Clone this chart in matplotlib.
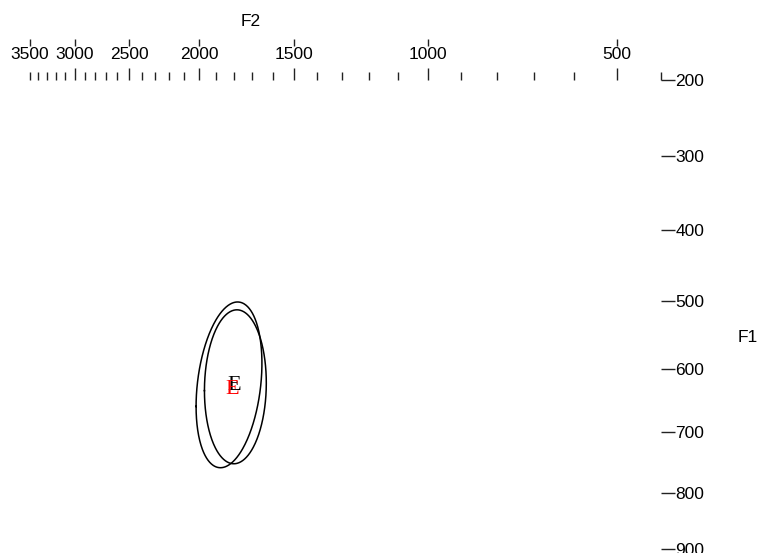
import numpy as np
import matplotlib
matplotlib.use("Agg")
import matplotlib.pyplot as plt

# ---------------- data ----------------
f2_label_ticks = [3500, 3000, 2500, 2000, 1500, 1000, 500]
f2_major_ticks = [3000, 2500, 2000, 1500, 1000, 500]
f2_minor_ticks = [3500, 3400, 3300, 3200, 3100, 2900, 2800, 2700, 2600,
                  2400, 2300, 2200, 2100, 1900, 1800, 1700, 1600,
                  1400, 1300, 1200, 1100, 900, 800, 700, 600, 400]
f1_ticks = [200, 300, 400, 500, 600, 700, 800, 900]
f2_limits = [3500, 400]
f1_limits = [900, 200]

# vowel ellipses (centre in Hz, spread in Bark, correlation)
ell_f2 = [1825, 1790]
ell_f1 = [625, 628]
ell_sd_f2 = [0.33, 0.31]
ell_sd_f1 = [0.52, 0.483]
ell_corr = [0.26, 0.05]

# vowel labels
lab_text = ["E", "E"]
lab_f2 = [1795, 1810]
lab_f1 = [626, 632]
lab_color = ["black", "red"]


# ---------------- Bark scale ----------------
def bark(f):
    f = np.clip(np.asarray(f, dtype=float), 0, None)
    return 13.0 * np.arctan(0.00076 * f) + 3.5 * np.arctan((f / 7500.0) ** 2)

_grid = np.linspace(0, 20000, 200001)
_bgrid = bark(_grid)

def hz(b):
    return np.interp(np.asarray(b, dtype=float), _bgrid, _grid)


W, H = 758, 553
fig = plt.figure(figsize=(W / 100, H / 100), dpi=100)
fig.patch.set_facecolor("white")
plt.rcParams["font.family"] = ["Liberation Sans", "DejaVu Sans"]

left, right, top, bottom = 30, 661, 80, 549
ax = fig.add_axes([left / W, 1 - bottom / H, (right - left) / W, (bottom - top) / H])
ax.set_xscale("function", functions=(bark, hz))
ax.set_yscale("function", functions=(bark, hz))
ax.set_xlim(*f2_limits)
ax.set_ylim(*f1_limits)
for s in ax.spines.values():
    s.set_visible(False)
ax.patch.set_alpha(0)

ax.set_xticks(f2_major_ticks)
ax.set_xticks(f2_minor_ticks, minor=True)
ax.xaxis.set_ticks_position("top")
ax.tick_params(axis="x", which="major", direction="out", length=8.6, width=1.0,
               labeltop=False, labelbottom=False, color="#222222")
ax.tick_params(axis="x", which="minor", direction="out", length=5.8, width=1.0,
               labeltop=False, labelbottom=False, color="#222222")

ax.set_yticks(f1_ticks)
ax.yaxis.set_minor_locator(matplotlib.ticker.NullLocator())
ax.yaxis.set_ticks_position("right")
ax.tick_params(axis="y", which="major", direction="out", length=10.0, width=1.0,
               labelright=True, labelleft=False, labelsize=12.5, pad=0.5, color="#222222")

# ellipses (2 sd in Bark space)
t = np.linspace(0, 2 * np.pi, 400)
for cf2, cf1, sx, sy, r in zip(ell_f2, ell_f1, ell_sd_f2, ell_sd_f1, ell_corr):
    cov = np.array([[sx * sx, r * sx * sy], [r * sx * sy, sy * sy]])
    L = np.linalg.cholesky(cov)
    pts = 2.0 * L @ np.vstack([np.cos(t), np.sin(t)])
    bx = bark(cf2) + pts[0]
    by = bark(cf1) + pts[1]
    ax.plot(hz(bx), hz(by), color="black", lw=1.1)

for txt, x, y, c in zip(lab_text, lab_f2, lab_f1, lab_color):
    ax.text(x, y, txt, color=c, fontsize=16, ha="center", va="center",
            family=["Liberation Serif", "DejaVu Serif"])

# upper label row with small ticks above the numbers
ax2 = fig.add_axes([left / W, 1 - 46 / H, (right - left) / W, 7 / H])
ax2.set_xscale("function", functions=(bark, hz))
ax2.set_xlim(*f2_limits)
for s in ax2.spines.values():
    s.set_visible(False)
ax2.patch.set_alpha(0)
ax2.set_yticks([])
ax2.set_xticks(f2_label_ticks)
ax2.set_xticklabels([str(v) for v in f2_label_ticks])
ax2.xaxis.set_minor_locator(matplotlib.ticker.NullLocator())
ax2.tick_params(axis="x", which="major", direction="in", length=5.0, width=1.0,
                bottom=True, top=False, labelbottom=True, labelsize=12.5, pad=1.0,
                color="#222222")

fig.text(251 / W, 1 - 22 / H, "F2", fontsize=12.5, ha="center", va="center")
fig.text(748 / W, 1 - 338 / H, "F1", fontsize=12.5, ha="center", va="center")

fig.savefig("out.png", dpi=100)
